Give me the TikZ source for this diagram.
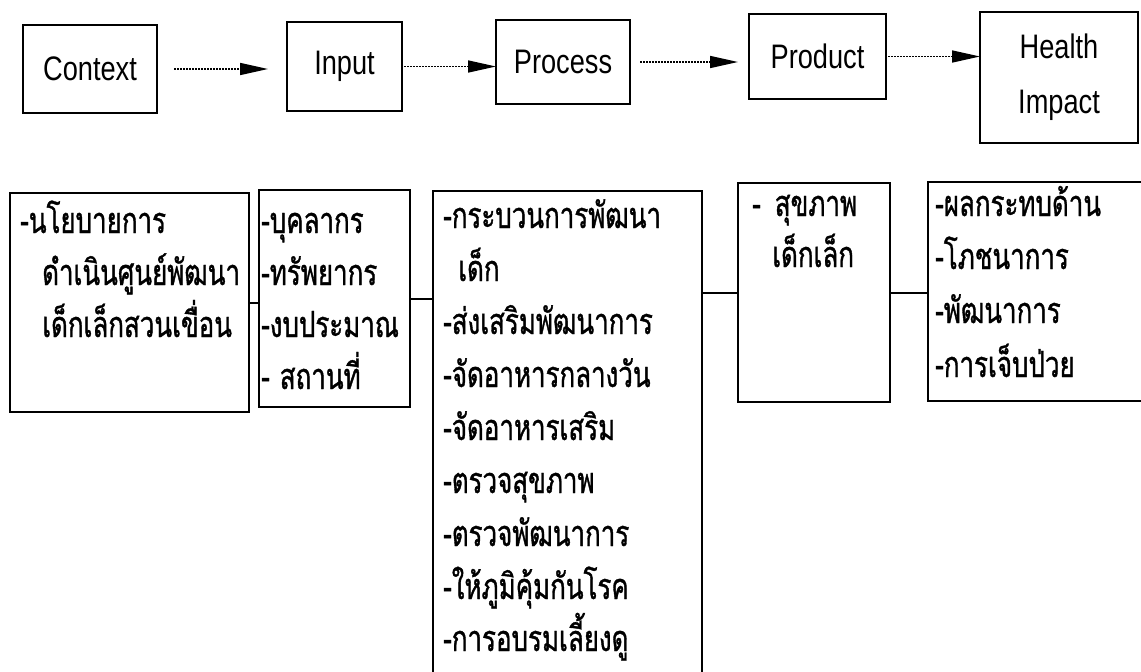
\documentclass[tikz,border=0pt]{standalone}
\usepackage{fontspec}
\setmainfont{Liberation Sans}
\newfontfamily\thaifont[Script=Thai,FakeStretch=0.72,FakeBold=1]{Loma}
\newfontfamily\engfont[FakeStretch=0.8]{Liberation Sans}
\usetikzlibrary{arrows.meta}
\begin{document}
\begin{tikzpicture}[x=1pt,y=-1pt,
  box/.style={draw, line width=2pt, inner sep=0pt, outer sep=0pt, anchor=north west},
  openbox/.style={draw=none, inner sep=0pt, outer sep=0pt, anchor=north west},
  eng/.style={font=\engfont\fontsize{34}{40}\selectfont},
  th/.style={font=\thaifont\fontsize{36}{42}\selectfont, inner sep=0pt, anchor=base west},
  arr/.style={line width=1.6pt, dash pattern=on 2pt off 1pt, -{Triangle[length=28pt,width=12pt]}},
  conn/.style={line width=2pt},
  boxline/.style={line width=2pt}]
\useasboundingbox (0,0) rectangle (1141,672);
% top row
\node[box, eng, minimum width=134pt, minimum height=88pt] (ctx) at (23,25) {Context};
\node[box, eng, minimum width=115pt, minimum height=89pt] (inp) at (287,22) {Input};
\node[box, eng, minimum width=134pt, minimum height=84pt] (prc) at (496,20) {Process};
\node[box, eng, minimum width=137pt, minimum height=85pt] (prd) at (749,14) {Product};
\node[box, eng, minimum width=158pt, minimum height=131pt, align=center] (hlt) at (980,12) {Health\\[15pt]Impact};
\draw[arr] ([xshift=17pt]ctx.east) -- ([xshift=-19pt]ctx.east -| inp.west);
\draw[arr] ([xshift=2pt]inp.east) -- (inp.east -| prc.west);
\draw[arr] ([xshift=10pt]prc.east) -- ([xshift=-11pt]prc.east -| prd.west);
\draw[arr] ([xshift=2pt]prd.east) -- (prd.east -| hlt.west);
% bottom row boxes
\node[box, minimum width=239pt, minimum height=219pt] (b1) at (10,193) {};
\node[box, minimum width=151pt, minimum height=217pt] (b2) at (259,190) {};
\node[openbox, minimum width=269pt, minimum height=482pt] (b3) at (433,191) {};
\draw[boxline] (b3.south west) -- (b3.north west) -- (b3.north east) -- (b3.south east);
\node[box, minimum width=152pt, minimum height=219pt] (b4) at (738,183) {};
\node[openbox, minimum width=214pt, minimum height=219pt] (b5) at (928,182) {};
\draw[boxline] (b5.north east) -- (b5.north west) -- (b5.south west) -- (b5.south east);
% connectors
\draw[conn] (b1.east) -- (b1.east -| b2.west);
\draw[conn] (b2.east) -- (b2.east -| b3.west);
\draw[conn] (b4.west -| b3.east) -- (b4.west);
\draw[conn] (b4.east) -- (b4.east -| b5.west);
% texts box 1
\node[th] (t1a) at (20,233) {-นโยบายการ};
\node[th] (t1b) at (42,285) {ดำเนินศูนย์พัฒนา};
\node[th] (t1c) at (42,337) {เด็กเล็กสวนเขื่อน};
% box 2
\node[th] (t2a) at (261,233) {-บุคลากร};
\node[th] (t2b) at (261,285) {-ทรัพยากร};
\node[th] (t2c) at (261,337) {-งบประมาณ};
\node[th] (t2d) at (261,389) {-\hspace{10pt}สถานที่};
% box 3
\node[th] (t3a) at (443,228) {-กระบวนการพัฒนา};
\node[th] (t3b) at (458,281) {เด็ก};
\node[th] (t3c) at (443,334) {-ส่งเสริมพัฒนาการ};
\node[th] (t3d) at (443,387) {-จัดอาหารกลางวัน};
\node[th] (t3e) at (443,440) {-จัดอาหารเสริม};
\node[th] (t3f) at (443,493) {-ตรวจสุขภาพ};
\node[th] (t3g) at (443,546) {-ตรวจพัฒนาการ};
\node[th] (t3h) at (443,599) {-ให้ภูมิคุ้มกันโรค};
\node[th] (t3i) at (443,651) {-การอบรมเลี้ยงดู};
% box 4
\node[th] (t4a) at (752,216) {-\hspace{14pt}สุขภาพ};
\node[th] (t4b) at (772,267) {เด็กเล็ก};
% box 5
\node[th] (t5a) at (935,216) {-ผลกระทบด้าน};
\node[th] (t5b) at (935,269) {-โภชนาการ};
\node[th] (t5c) at (935,323) {-พัฒนาการ};
\node[th] (t5d) at (935,377) {-การเจ็บป่วย};
\end{tikzpicture}
\end{document}
